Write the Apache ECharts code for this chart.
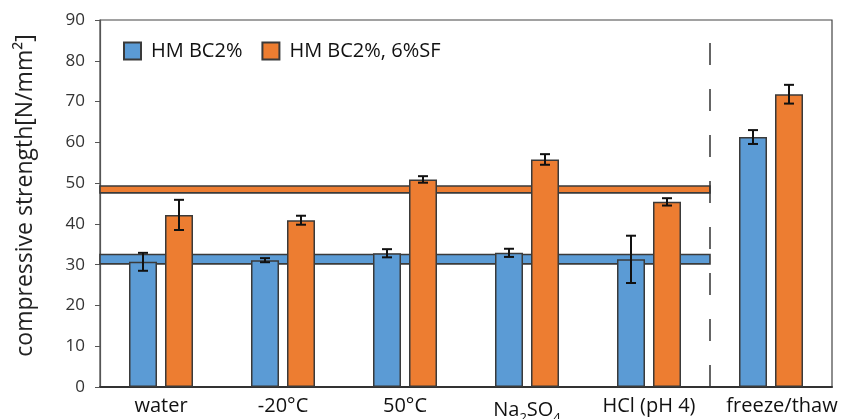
<!DOCTYPE html>
<html>
<head>
<meta charset="utf-8">
<script src="https://cdn.jsdelivr.net/npm/echarts@6/dist/echarts.min.js"></script>
<style>
  html, body { margin: 0; padding: 0; background: #fff; }
  #chart { width: 846px; height: 419px; }
</style>
</head>
<body>
<div id="chart"></div>
<script>
// Exposure conditions
const categories = ['water', '-20°C', '50°C', 'Na2SO4', 'HCl (pH 4)', 'freeze/thaw'];

// Mean compressive strength [N/mm²] and standard deviation
const bc2Name = 'HM BC2%';
const bc2Values = [30.7, 31.1, 32.8, 32.9, 31.3, 61.3];
const bc2Errors = [2.2, 0.5, 1.0, 1.0, 5.8, 1.7];

const sfName = 'HM BC2%, 6%SF';
const sfValues = [42.2, 40.9, 50.9, 55.8, 45.4, 71.8];
const sfErrors = [3.7, 1.1, 0.8, 1.3, 0.9, 2.3];

// Reference ranges (lower, upper) spanning the first five conditions
const bc2Band = [30.2, 32.5];
const sfBand = [47.6, 49.3];
const bandSpan = [0, 5];

// Position of the divider before the freeze/thaw group
const dividerAt = 5;

const yTicks = { min: 0, max: 90, interval: 10 };

const BLUE = '#5B9BD5';
const ORANGE = '#ED7D31';
const EDGE = '#3a3a3a';
const BAR_W = 28;
const BAR_GAP = 8;
const FONT = '"Open Sans", "Noto Sans", sans-serif';

const chart = echarts.init(document.getElementById('chart'), null, { renderer: 'canvas' });

function errorSeries(name, values, errors, offset) {
  return {
    type: 'custom',
    name: name + ' error',
    xAxisIndex: 0,
    yAxisIndex: 0,
    z: 10,
    silent: true,
    data: values.map((v, i) => [i, v - errors[i], v + errors[i]]),
    renderItem: function (params, api) {
      const lo = api.coord([api.value(0), api.value(1)]);
      const hi = api.coord([api.value(0), api.value(2)]);
      const x = lo[0] + offset;
      const cap = 5;
      const style = { stroke: '#111', lineWidth: 2 };
      return {
        type: 'group',
        children: [
          { type: 'line', shape: { x1: x, y1: lo[1], x2: x, y2: hi[1] }, style: style },
          { type: 'line', shape: { x1: x - cap, y1: lo[1], x2: x + cap, y2: lo[1] }, style: style },
          { type: 'line', shape: { x1: x - cap, y1: hi[1], x2: x + cap, y2: hi[1] }, style: style }
        ]
      };
    }
  };
}

function bandSeries(range, color) {
  return {
    type: 'custom',
    xAxisIndex: 1,
    yAxisIndex: 0,
    z: 1,
    silent: true,
    data: [[bandSpan[0], bandSpan[1], range[0], range[1]]],
    renderItem: function (params, api) {
      const a = api.coord([api.value(0), api.value(3)]);
      const b = api.coord([api.value(1), api.value(2)]);
      return {
        type: 'rect',
        shape: { x: a[0], y: a[1], width: b[0] - a[0], height: b[1] - a[1] },
        style: { fill: color, stroke: EDGE, lineWidth: 1.6 }
      };
    }
  };
}

const option = {
  backgroundColor: '#fff',
  animation: false,
  textStyle: { fontFamily: FONT },
  grid: {
    left: 100, right: 14, top: 20, bottom: 32,
    outerBoundsMode: 'none',
    containLabel: false,
    show: true, borderColor: '#444', borderWidth: 1.2
  },
  legend: {
    data: [bc2Name, sfName],
    left: 118,
    top: 36,
    icon: 'rect',
    itemWidth: 17,
    itemHeight: 17,
    itemGap: 19,
    textStyle: { fontSize: 20, color: '#111', fontFamily: FONT, padding: [0, 0, 0, 5] }
  },
  xAxis: [
    {
      type: 'category',
      data: categories,
      axisLine: { lineStyle: { color: '#333', width: 2 } },
      axisTick: { show: false },
      axisLabel: {
        interval: 0,
        fontSize: 20,
        color: '#111',
        margin: 9,
        formatter: function (v) {
          if (v === 'Na2SO4') return 'Na{sub|2}SO{sub|4}';
          if (v === 'freeze/thaw') return '{last|' + v + '}';
          return v;
        },
        rich: {
          sub: { fontSize: 13, verticalAlign: 'bottom', padding: [16, 0, 0, 0], color: '#111' },
          last: { fontSize: 20, color: '#111', padding: [0, 0, 0, 22] }
        }
      }
    },
    {
      type: 'value',
      min: 0,
      max: categories.length,
      show: false
    }
  ],
  yAxis: {
    type: 'value',
    min: yTicks.min,
    max: yTicks.max,
    interval: yTicks.interval,
    name: 'compressive strength[N/mm²]',
    nameLocation: 'middle',
    nameGap: 63,
    nameTextStyle: { fontSize: 23, color: '#222', fontFamily: FONT, padding: [0, 0, 0, 16] },
    axisLine: { show: true, lineStyle: { color: '#555', width: 1.2 } },
    axisTick: { show: true, length: 5, lineStyle: { color: '#555' } },
    axisLabel: { fontSize: 17, color: '#333', margin: 15 },
    splitLine: { show: false }
  },
  series: [
    bandSeries(bc2Band, BLUE),
    bandSeries(sfBand, ORANGE),
    {
      type: 'line',
      xAxisIndex: 1,
      yAxisIndex: 0,
      data: [],
      silent: true,
      markLine: {
        silent: true,
        symbol: 'none',
        label: { show: false },
        lineStyle: { color: '#333', width: 1.5, type: [22, 24] },
        data: [{ xAxis: dividerAt }]
      }
    },
    {
      name: bc2Name,
      type: 'bar',
      data: bc2Values,
      barWidth: BAR_W,
      barGap: (BAR_GAP / BAR_W * 100) + '%',
      z: 5,
      itemStyle: { color: BLUE, borderColor: EDGE, borderWidth: 1.5 }
    },
    {
      name: sfName,
      type: 'bar',
      data: sfValues,
      barWidth: BAR_W,
      z: 5,
      itemStyle: { color: ORANGE, borderColor: EDGE, borderWidth: 1.5 }
    },
    errorSeries(bc2Name, bc2Values, bc2Errors, -(BAR_W + BAR_GAP) / 2),
    errorSeries(sfName, sfValues, sfErrors, (BAR_W + BAR_GAP) / 2)
  ]
};

chart.setOption(option);
</script>
</body>
</html>
